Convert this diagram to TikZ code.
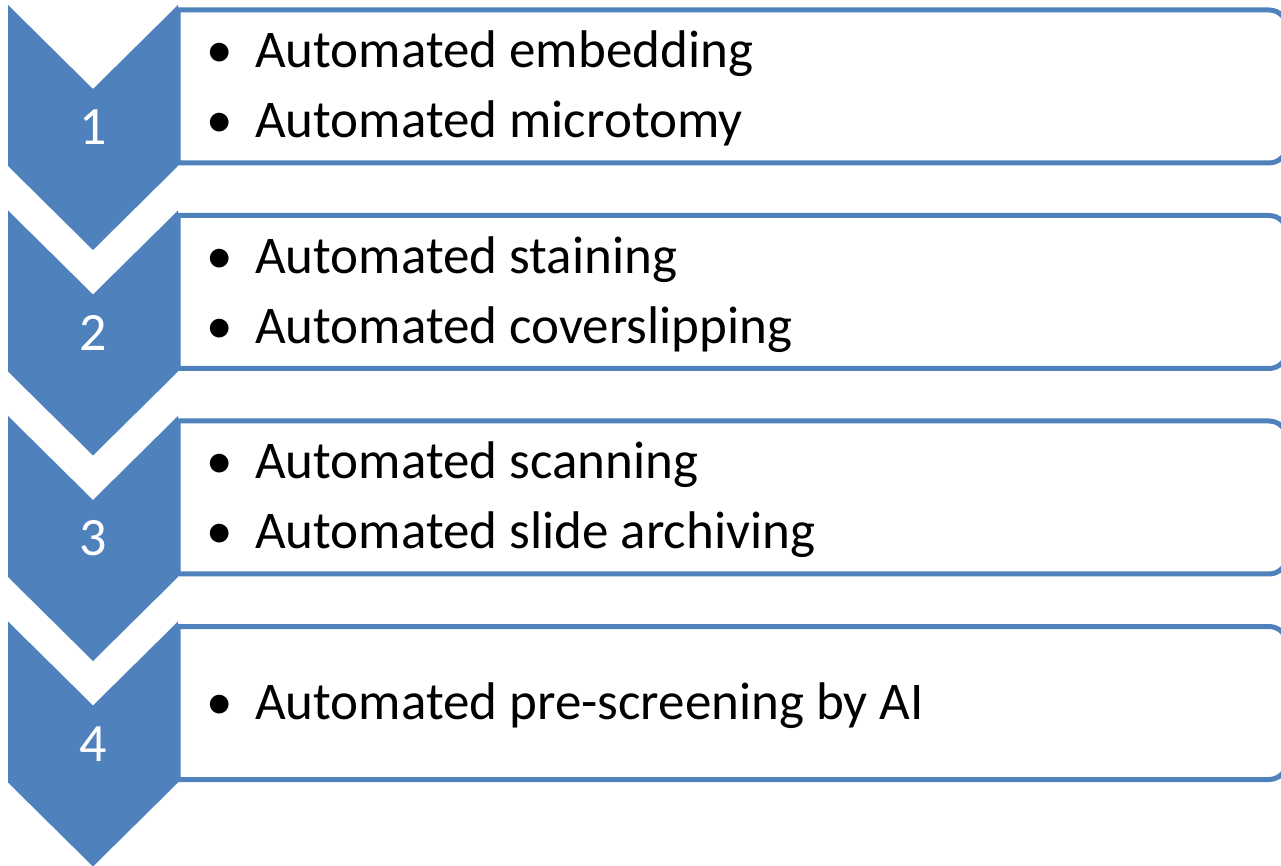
\documentclass[tikz,border=0pt]{standalone}
\usepackage{fontspec}
\setmainfont{Carlito}
\usepackage{tikz}
\definecolor{chevblue}{HTML}{4F81BD}

\tikzset{
 chev/.style={fill=chevblue,draw=none},
 listbox/.style={draw=chevblue,line width=5pt,fill=white},
 stepnum/.style={inner sep=0pt,anchor=base,text=white,font=\fontsize{54pt}{60pt}\selectfont},
 bul/.style={inner sep=0pt,anchor=base,font=\fontsize{53pt}{60pt}\selectfont},
 item/.style={inner sep=0pt,anchor=base west,font=\fontsize{53pt}{60pt}\selectfont}
}

\begin{document}
\begin{tikzpicture}[x=1pt,y=1pt]
 \useasboundingbox (0,0) rectangle (1281,865);

 % step 1
 \draw[listbox] (178,855) -- (1269,855) arc[start angle=90,end angle=0,radius=18]
  -- (1287,720) arc[start angle=0,end angle=-90,radius=18] -- (178,702) -- cycle;
 \fill[chev] (8,860) -- (93,776) -- (178,860) -- (178,699) -- (93,615) -- (8,699) -- cycle;
 \node[stepnum] (N1) at (93,720) {1};
 \node[bul] (B1a) at (220,797) {\textbullet};
 \node[item] (T1a) at (255,797) {Automated embedding};
 \node[bul] (B1b) at (220,727) {\textbullet};
 \node[item] (T1b) at (255,727) {Automated microtomy};

 % step 2
 \begin{scope}[yshift=-205.5pt]
 \draw[listbox] (178,855) -- (1269,855) arc[start angle=90,end angle=0,radius=18]
  -- (1287,720) arc[start angle=0,end angle=-90,radius=18] -- (178,702) -- cycle;
 \fill[chev] (8,860) -- (93,776) -- (178,860) -- (178,699) -- (93,615) -- (8,699) -- cycle;
 \node[stepnum] (N2) at (93,720) {2};
 \node[bul] (B2a) at (220,797) {\textbullet};
 \node[item] (T2a) at (255,797) {Automated staining};
 \node[bul] (B2b) at (220,727) {\textbullet};
 \node[item] (T2b) at (255,727) {Automated coverslipping};
 \end{scope}

 % step 3
 \begin{scope}[yshift=-411pt]
 \draw[listbox] (178,855) -- (1269,855) arc[start angle=90,end angle=0,radius=18]
  -- (1287,720) arc[start angle=0,end angle=-90,radius=18] -- (178,702) -- cycle;
 \fill[chev] (8,860) -- (93,776) -- (178,860) -- (178,699) -- (93,615) -- (8,699) -- cycle;
 \node[stepnum] (N3) at (93,720) {3};
 \node[bul] (B3a) at (220,797) {\textbullet};
 \node[item] (T3a) at (255,797) {Automated scanning};
 \node[bul] (B3b) at (220,727) {\textbullet};
 \node[item] (T3b) at (255,727) {Automated slide archiving};
 \end{scope}

 % step 4
 \begin{scope}[yshift=-616.5pt]
 \draw[listbox] (178,855) -- (1269,855) arc[start angle=90,end angle=0,radius=18]
  -- (1287,720) arc[start angle=0,end angle=-90,radius=18] -- (178,702) -- cycle;
 \fill[chev] (8,860) -- (93,776) -- (178,860) -- (178,699) -- (93,615) -- (8,699) -- cycle;
 \node[stepnum] (N4) at (93,720) {4};
 \node[bul] (B4a) at (220,762) {\textbullet};
 \node[item] (T4a) at (255,762) {Automated pre-screening by AI};
 \end{scope}

\end{tikzpicture}
\end{document}
